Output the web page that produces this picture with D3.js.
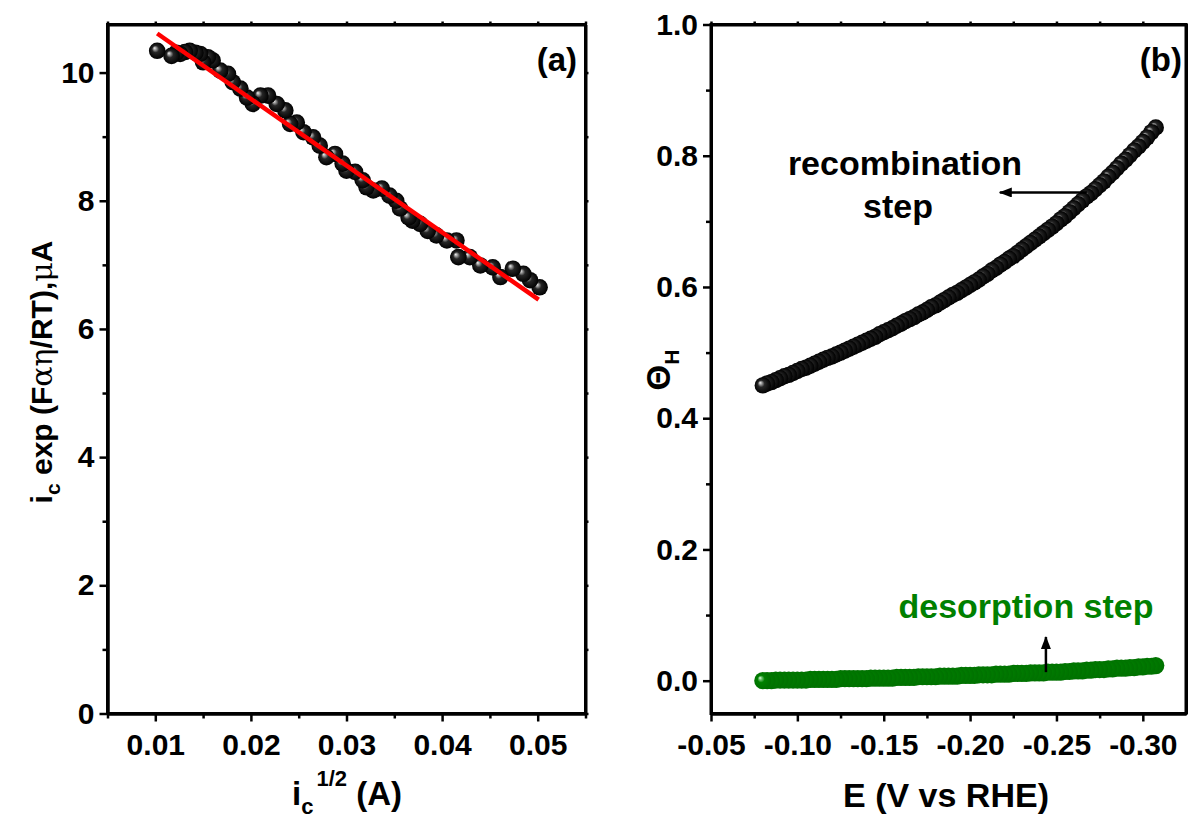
<!DOCTYPE html>
<html><head><meta charset="utf-8">
<script src="https://cdn.jsdelivr.net/npm/d3@7"></script>
<style>
body{margin:0;background:#fff}
svg{display:block}
text{font-family:"Liberation Sans",Arial,Helvetica,sans-serif;font-weight:bold;fill:#000}
</style>
</head><body>
<svg id="chart" width="1188" height="823"></svg>
<script>
// ---------- Panel (a) data ----------
const sqrtIc = [0.0102,0.0117,0.0122,0.0126,0.0131,0.0136,0.0142,0.0147,0.0150,0.0155,0.0160,0.0168,0.0176,0.0181,0.0189,0.0196,0.0202,0.0210,0.0218,0.0227,0.0236,0.0241,0.0248,0.0255,0.0265,0.0272,0.0279,0.0288,0.0296,0.0300,0.0309,0.0317,0.0321,0.0328,0.0337,0.0345,0.0352,0.0356,0.0365,0.0369,0.0377,0.0385,0.0394,0.0405,0.0415,0.0417,0.0429,0.0440,0.0453,0.0461,0.0474,0.0485,0.0492,0.0502];
const icExp  = [10.34,10.26,10.31,10.29,10.32,10.34,10.31,10.29,10.16,10.24,10.19,10.03,9.98,9.85,9.75,9.61,9.51,9.64,9.64,9.51,9.41,9.20,9.22,9.07,8.99,8.86,8.68,8.73,8.58,8.47,8.45,8.32,8.21,8.16,8.19,8.08,8.00,7.88,7.74,7.69,7.64,7.53,7.46,7.38,7.38,7.12,7.12,6.99,6.96,6.81,6.94,6.86,6.76,6.65];
const fitX = [0.0102, 0.0501];
const fitY = [10.61, 6.456];
const xTicksA = [0.01,0.02,0.03,0.04,0.05];
const xMinorA = [0.005,0.015,0.025,0.035,0.045,0.055];
const yTicksA = [0,2,4,6,8,10];
const yMinorA = [1,3,5,7,9];

// ---------- Panel (b) data ----------
const potential = [-0.0800,-0.0825,-0.0850,-0.0875,-0.0900,-0.0925,-0.0950,-0.0975,-0.1000,
 -0.1025,-0.1050,-0.1075,-0.1100,-0.1125,-0.1150,-0.1175,-0.1200,-0.1225,-0.1250,
 -0.1275,-0.1300,-0.1325,-0.1350,-0.1375,-0.1400,-0.1425,-0.1450,-0.1475,-0.1500,
 -0.1525,-0.1550,-0.1575,-0.1600,-0.1625,-0.1650,-0.1675,-0.1700,-0.1725,-0.1750,
 -0.1775,-0.1800,-0.1825,-0.1850,-0.1875,-0.1900,-0.1925,-0.1950,-0.1975,-0.2000,
 -0.2025,-0.2050,-0.2075,-0.2100,-0.2125,-0.2150,-0.2175,-0.2200,-0.2225,-0.2250,
 -0.2275,-0.2300,-0.2325,-0.2350,-0.2375,-0.2400,-0.2425,-0.2450,-0.2475,-0.2500,
 -0.2525,-0.2550,-0.2575,-0.2600,-0.2625,-0.2650,-0.2675,-0.2700,-0.2725,-0.2750,
 -0.2775,-0.2800,-0.2825,-0.2850,-0.2875,-0.2900,-0.2925,-0.2950,-0.2975,-0.3000,
 -0.3025,-0.3050,-0.3075];
const thetaRecomb = [0.450,0.453,0.455,0.458,0.461,0.464,0.466,0.469,0.472,
 0.475,0.477,0.480,0.483,0.486,0.489,0.492,0.494,0.497,0.500,
 0.503,0.506,0.509,0.512,0.515,0.518,0.521,0.524,0.528,0.531,
 0.534,0.537,0.541,0.544,0.548,0.551,0.554,0.558,0.561,0.565,
 0.569,0.572,0.576,0.580,0.584,0.588,0.591,0.595,0.599,0.603,
 0.607,0.611,0.616,0.620,0.625,0.629,0.634,0.638,0.643,0.647,
 0.652,0.657,0.662,0.667,0.672,0.677,0.682,0.687,0.692,0.697,
 0.703,0.708,0.714,0.720,0.726,0.732,0.738,0.743,0.749,0.755,
 0.761,0.768,0.774,0.781,0.788,0.794,0.801,0.808,0.814,0.821,
 0.828,0.836,0.843];
const thetaDesorp = [0.000,0.000,0.000,0.001,0.001,0.001,0.001,0.001,0.001,
 0.001,0.001,0.002,0.002,0.002,0.002,0.002,0.002,0.002,0.003,
 0.003,0.003,0.003,0.003,0.003,0.003,0.004,0.004,0.004,0.004,
 0.004,0.004,0.005,0.005,0.005,0.005,0.005,0.006,0.006,0.006,
 0.006,0.006,0.007,0.007,0.007,0.007,0.007,0.008,0.008,0.008,
 0.008,0.009,0.009,0.009,0.009,0.010,0.010,0.010,0.010,0.011,
 0.011,0.011,0.011,0.012,0.012,0.012,0.012,0.013,0.013,0.013,
 0.013,0.014,0.014,0.015,0.015,0.015,0.016,0.016,0.017,0.017,
 0.017,0.018,0.018,0.019,0.019,0.019,0.020,0.020,0.021,0.021,
 0.022,0.022,0.023];
const xTicksB = [-0.05,-0.10,-0.15,-0.20,-0.25,-0.30];
const xMinorB = [-0.075,-0.125,-0.175,-0.225,-0.275];
const yTicksB = [0,0.2,0.4,0.6,0.8,1.0];
const yMinorB = [0.1,0.3,0.5,0.7,0.9];
// annotation arrows (data coordinates)
const recombArrow = {x1:-0.2676, y1:0.744, x2:-0.2172, y2:0.744};
const desorpArrow = {x1:-0.2439, y1:0.013, x2:-0.2439, y2:0.0665};

// ---------- drawing ----------
const svg = d3.select("#chart");
svg.append("rect").attr("width",1188).attr("height",823).attr("fill","#fff");
const defs = svg.append("defs");
function sphereGrad(id, stops){
  const g = defs.append("radialGradient").attr("id",id)
    .attr("cx","50%").attr("cy","50%").attr("r","50%").attr("fx","33%").attr("fy","33%");
  stops.forEach(s=>g.append("stop").attr("offset",s[0]).attr("stop-color",s[1]));
}
sphereGrad("ballBlack",[["0%","#f2f2f2"],["18%","#9a9a9a"],["42%","#262626"],["100%","#000"]]);
sphereGrad("ballGreen",[["0%","#e8ffe8"],["18%","#6cc06c"],["42%","#008000"],["100%","#007000"]]);
defs.append("marker").attr("id","arrowHead").attr("markerUnits","userSpaceOnUse")
  .attr("markerWidth",14).attr("markerHeight",12).attr("refX",12).attr("refY",5)
  .attr("orient","auto")
  .append("path").attr("d","M0,0 L13,5 L0,10 Z").attr("fill","#000");

const TOP = 24.5, BOT = 713.5;
const TICKFONT = 30;

function drawAxes(g, x, y, xT, xM, yT, yM, xFmt, yFmt){
  const [x0,x1] = x.range();
  g.append("rect").attr("x",x0).attr("y",TOP).attr("width",x1-x0).attr("height",BOT-TOP)
    .attr("fill","none").attr("stroke","#000").attr("stroke-width",3);
  const bx = g.append("g").attr("transform",`translate(0,${BOT})`)
    .call(d3.axisBottom(x).tickValues(xT).tickSize(8).tickSizeOuter(0).tickPadding(12).tickFormat(xFmt));
  const bxm = g.append("g").attr("transform",`translate(0,${BOT})`)
    .call(d3.axisBottom(x).tickValues(xM).tickSize(5).tickSizeOuter(0).tickFormat(""));
  const ly = g.append("g").attr("transform",`translate(${x0},0)`)
    .call(d3.axisLeft(y).tickValues(yT).tickSize(8).tickSizeOuter(0).tickPadding(5).tickFormat(yFmt));
  const lym = g.append("g").attr("transform",`translate(${x0},0)`)
    .call(d3.axisLeft(y).tickValues(yM).tickSize(5).tickSizeOuter(0).tickFormat(""));
  const tx = g.append("g").attr("transform",`translate(0,${TOP})`)
    .call(d3.axisTop(x).tickValues(xT.concat(xM)).tickSize(3).tickSizeOuter(0).tickFormat(""));
  const ry = g.append("g").attr("transform",`translate(${x1},0)`)
    .call(d3.axisRight(y).tickValues(yT.concat(yM)).tickSize(3).tickSizeOuter(0).tickFormat(""));
  [bx,bxm,ly,lym,tx,ry].forEach(a=>{
    a.select(".domain").attr("stroke","#000").attr("stroke-width",3);
    a.selectAll(".tick line").attr("stroke","#000").attr("stroke-width",2.5);
    a.selectAll(".tick text").attr("font-size",TICKFONT).attr("font-weight","bold")
      .attr("font-family",'"Liberation Sans",Arial,sans-serif').attr("fill","#000");
  });
}

// ---- Panel (a) ----
const xA = d3.scaleLinear().domain([0.005,0.055]).range([107.5,585.5]);
const yA = d3.scaleLinear().domain([0,10.75]).range([BOT,TOP]);
const gA = svg.append("g");
drawAxes(gA, xA, yA, xTicksA, xMinorA, yTicksA, yMinorA, d=>d.toFixed(2), d=>d3.format("d")(d));
const ptsA = sqrtIc.map((v,i)=>({x:v,y:icExp[i]})).sort((a,b)=>b.x-a.x);
gA.append("g").selectAll("circle").data(ptsA).join("circle")
  .attr("cx",d=>xA(d.x)).attr("cy",d=>yA(d.y)).attr("r",8.3).attr("fill","url(#ballBlack)");
gA.append("line").attr("x1",xA(fitX[0])).attr("y1",yA(fitY[0])).attr("x2",xA(fitX[1])).attr("y2",yA(fitY[1]))
  .attr("stroke","#ff0000").attr("stroke-width",4.5);
gA.append("text").attr("x",577).attr("y",71).attr("text-anchor","end").attr("font-size",33).text("(a)");
// y title (a)
const ytA = gA.append("text").attr("transform","translate(52,372) rotate(-90)").attr("text-anchor","middle").attr("font-size",30);
ytA.append("tspan").text("i");
ytA.append("tspan").attr("font-size",21).attr("dy",8).text("c");
ytA.append("tspan").attr("dy",-8).text(" exp (F");
ytA.append("tspan").attr("font-weight","normal").attr("font-family","'DejaVu Serif',serif").text("αη");
ytA.append("tspan").text("/RT),");
ytA.append("tspan").attr("font-weight","normal").attr("font-family","'DejaVu Serif',serif").text("μ");
ytA.append("tspan").text("A");
// x title (a)
const xtA = gA.append("text").attr("x",347).attr("y",805).attr("text-anchor","middle").attr("font-size",33);
xtA.append("tspan").text("i");
xtA.append("tspan").attr("font-size",22).attr("dy",9).text("c");
xtA.append("tspan").attr("font-size",22).attr("dy",-28).attr("dx",3).text("1/2");
xtA.append("tspan").attr("dy",19).text("  (A)");

// ---- Panel (b) ----
const xB = d3.scaleLinear().domain([-0.05,-0.325]).range([711,1186]);
const yB = d3.scaleLinear().domain([-0.05,1.0]).range([BOT,TOP]);
const gB = svg.append("g");
drawAxes(gB, xB, yB, xTicksB, xMinorB, yTicksB, yMinorB, d=>d.toFixed(2), d=>d.toFixed(1));
const ptsR = potential.map((v,i)=>({x:v,y:thetaRecomb[i]})).reverse();
const ptsD = potential.map((v,i)=>({x:v,y:thetaDesorp[i]})).reverse();
gB.append("g").selectAll("circle").data(ptsD).join("circle")
  .attr("cx",d=>xB(d.x)).attr("cy",d=>yB(d.y)).attr("r",8.6).attr("fill","url(#ballGreen)");
gB.append("g").selectAll("circle").data(ptsR).join("circle")
  .attr("cx",d=>xB(d.x)).attr("cy",d=>yB(d.y)).attr("r",8.2).attr("fill","url(#ballBlack)");
gB.append("text").attr("x",1182).attr("y",71).attr("text-anchor","end").attr("font-size",33).text("(b)");
// annotations
gB.append("text").attr("x",905).attr("y",175).attr("text-anchor","middle").attr("font-size",34).text("recombination");
gB.append("text").attr("x",898).attr("y",218).attr("text-anchor","middle").attr("font-size",34).text("step");
gB.append("line").attr("x1",xB(recombArrow.x1)).attr("y1",yB(recombArrow.y1))
  .attr("x2",xB(recombArrow.x2)).attr("y2",yB(recombArrow.y2))
  .attr("stroke","#000").attr("stroke-width",2.5).attr("marker-end","url(#arrowHead)");
gB.append("text").attr("x",1026).attr("y",618).attr("text-anchor","middle").attr("font-size",34)
  .style("fill","#008000").text("desorption step");
gB.append("line").attr("x1",xB(desorpArrow.x1)).attr("y1",yB(desorpArrow.y1))
  .attr("x2",xB(desorpArrow.x2)).attr("y2",yB(desorpArrow.y2))
  .attr("stroke","#000").attr("stroke-width",2.5).attr("marker-end","url(#arrowHead)");
// titles (b)
gB.append("text").attr("x",946).attr("y",807).attr("text-anchor","middle").attr("font-size",34).text("E (V vs RHE)");
const ytB = gB.append("text").attr("transform","translate(670,370) rotate(-90)").attr("text-anchor","middle").attr("font-size",33);
ytB.append("tspan").text("Θ");
ytB.append("tspan").attr("font-size",21).attr("dy",9).text("H");
</script>
</body></html>
